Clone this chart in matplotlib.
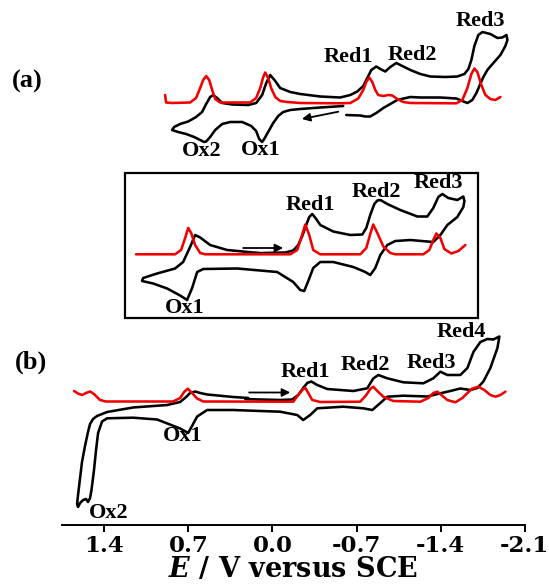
import numpy as np
import matplotlib
matplotlib.use('Agg')
import matplotlib.pyplot as plt
from matplotlib.patches import Rectangle

# potentials in V vs SCE, currents in arbitrary (offset) units

# panel (a) CV, scan starts near -0.6 V towards positive potentials
E_cv_a = [-0.589, -0.398, -0.231, -0.148, -0.089, -0.048, -0.006, 0.036, 0.069, 0.086,
          0.111, 0.136, 0.177, 0.252, 0.352, 0.419, 0.477, 0.519, 0.552, 0.569,
          0.602, 0.652, 0.719, 0.786, 0.836, 0.819, 0.769, 0.702, 0.636, 0.586,
          0.552, 0.519, 0.494, 0.461, 0.419, 0.336, 0.202, 0.136, 0.086, 0.052,
          0.019, -0.023, -0.064, -0.148, -0.231, -0.398, -0.564, -0.648, -0.706, -0.756,
          -0.789, -0.823, -0.864, -0.898, -0.939, -0.981, -1.031, -1.081, -1.148, -1.231,
          -1.314, -1.439, -1.539, -1.598, -1.631, -1.656, -1.681, -1.714, -1.748, -1.814,
          -1.873, -1.914, -1.948, -1.956, -1.939, -1.898, -1.839, -1.789, -1.756, -1.723,
          -1.698, -1.664, -1.623, -1.581, -1.531, -1.398, -1.231, -1.148, -1.039, -0.981,
          -0.923, -0.864, -0.814, -0.773, -0.731, -0.614]
I_cv_a = [419, 417.5, 416, 415, 413, 409, 402, 393, 386, 383,
          386, 394, 399, 403, 403, 401, 395, 388, 383.5, 383,
          385, 388, 391, 393, 395, 398, 401, 403.5, 408, 413,
          421, 428, 430, 427, 422, 420.5, 420, 422, 430, 442,
          450, 444, 437, 433, 431, 428.5, 427.5, 430, 433.5, 439,
          447, 455, 458.5, 456, 453.5, 458, 462, 459, 455, 451,
          448.5, 448, 448.5, 451, 456, 465, 479, 490, 493, 491,
          487, 487.5, 490, 485, 479, 470, 462, 455, 448, 439,
          432, 425, 422, 424, 426.5, 427.5, 427.5, 428, 425, 421,
          417, 412, 408.5, 408.5, 409.5, 410]

# panel (a) DPV
E_dpv_a = [0.894, 0.886, 0.836, 0.686, 0.636, 0.602, 0.577, 0.552, 0.527, 0.502,
           0.477, 0.436, 0.186, 0.136, 0.102, 0.077, 0.061, 0.036, 0.011, -0.023,
           -0.064, -0.123, -0.231, -0.564, -0.648, -0.714, -0.756, -0.781, -0.806, -0.831,
           -0.856, -0.881, -0.923, -0.964, -0.998, -1.039, -1.089, -1.148, -1.531, -1.581,
           -1.623, -1.656, -1.681, -1.706, -1.739, -1.773, -1.814, -1.856, -1.898]
I_dpv_a = [430, 422.5, 422, 422.5, 427, 437, 445, 449, 445, 435,
           426, 422.5, 422.5, 427, 437, 448, 452.5, 447, 437, 428,
           424, 423, 422, 421.7, 422, 426.5, 435, 443, 447.5, 443,
           435, 430, 429, 430, 429.5, 426, 423, 422, 421.7, 425,
           437, 451, 456.5, 453, 440, 430, 426, 425, 428]

# inset CV
E_cv_in = [0.086, -0.106, -0.173, -0.214, -0.248, -0.281, -0.306, -0.331, -0.364, -0.398,
           -0.506, -0.648, -0.748, -0.781, -0.814, -0.848, -0.873, -0.898, -0.956, -1.064,
           -1.206, -1.289, -1.339, -1.381, -1.414, -1.464, -1.539, -1.589, -1.598, -1.589,
           -1.539, -1.456, -1.398, -1.339, -1.289, -1.148, -1.023, -0.956, -0.898, -0.856,
           -0.814, -0.773, -0.673, -0.506, -0.398, -0.339, -0.298, -0.264, -0.231, -0.173,
           -0.039, 0.294, 0.577, 0.627, 0.669, 0.711, 0.769, 0.877, 0.994, 1.086,
           1.077, 0.961, 0.811, 0.744, 0.686, 0.644, 0.602, 0.519, 0.377, 0.161, 0.102]
I_cv_in = [272, 272.5, 274.5, 280, 289, 300, 308, 311, 306, 300,
           293.5, 290, 290.5, 297, 310, 321, 324.5, 325, 321, 315,
           308.5, 308.5, 317, 328, 331, 327, 325, 328.5, 324, 318,
           308, 300, 290, 283, 283.5, 285, 284, 280, 270, 257,
           250, 253, 258, 263, 263, 257, 244, 234, 235, 243,
           253, 256.5, 256, 253, 237, 225, 229.5, 236.5, 241.5, 244,
           247, 251.5, 256.5, 263, 278, 290, 287.5, 280, 275, 272.5, 272]

# inset DPV
E_dpv_in = [1.136, 0.811, 0.761, 0.727, 0.702, 0.677, 0.644, 0.602, 0.561, -0.148,
            -0.206, -0.239, -0.273, -0.306, -0.339, -0.398, -0.731, -0.781, -0.814, -0.839,
            -0.873, -0.923, -0.981, -1.023, -1.256, -1.306, -1.339, -1.364, -1.398, -1.431,
            -1.489, -1.548, -1.606]
I_dpv_in = [270.7, 270.7, 275, 287, 297, 292, 280, 272, 270.7, 270.7,
            275, 287, 300.5, 290, 275, 270.7, 270.7, 277, 291, 300.5,
            292, 278.5, 272, 270.7, 270.7, 275, 285, 291.5, 287, 276,
            271.5, 274, 280]

# panel (b) CV, scan starts near 0.2 V towards negative potentials
E_cv_b = [0.227, 0.102, -0.064, -0.164, -0.214, -0.256, -0.289, -0.323, -0.373, -0.456,
          -0.673, -0.789, -0.839, -0.881, -0.956, -1.089, -1.256, -1.339, -1.398, -1.456,
          -1.564, -1.623, -1.673, -1.731, -1.789, -1.839, -1.889, -1.873, -1.814, -1.756,
          -1.706, -1.648, -1.564, -1.481, -1.398, -1.289, -1.089, -0.956, -0.898, -0.831,
          -0.756, -0.589, -0.373, -0.314, -0.256, -0.206, -0.064, 0.102, 0.327, 0.544,
          0.627, 0.702, 0.769, 0.961, 1.161, 1.377, 1.419, 1.452, 1.469, 1.486,
          1.507, 1.519, 1.536, 1.552, 1.577, 1.602, 1.619, 1.627, 1.619, 1.602,
          1.586, 1.561, 1.536, 1.519, 1.494, 1.461, 1.377, 1.161, 0.877, 0.769,
          0.719, 0.686, 0.644, 0.602, 0.544, 0.327, 0.202]
I_cv_b = [126, 125.5, 125, 125.5, 130, 137, 142, 143.5, 140, 136,
          134, 136.7, 146.5, 150, 146.7, 142.7, 141.7, 146.7, 153.3, 150,
          150, 157, 173, 183, 186, 185.5, 188.5, 177, 157, 143.5,
          137, 135, 136.5, 134, 131.7, 128.5, 129.3, 128.3, 122, 115,
          116.7, 118.3, 116.7, 110, 105, 110, 113.3, 114, 115, 115,
          108.5, 92, 96.5, 105.5, 107.3, 106.7, 103.5, 92, 75, 55,
          35, 27, 23, 26, 25, 22, 18, 21, 30, 47,
          63, 79, 93, 101, 106, 109, 113, 117.5, 120, 123,
          128, 132, 133.5, 132, 130.5, 128, 127]

# panel (b) DPV
E_dpv_b = [1.652, 1.619, 1.586, 1.552, 1.519, 1.486, 1.436, 1.386, 0.827, 0.769,
           0.736, 0.705, 0.669, 0.630, 0.577, -0.173, -0.214, -0.248, -0.273, -0.298,
           -0.331, -0.398, -0.731, -0.781, -0.814, -0.839, -0.873, -0.923, -1.006, -1.231,
           -1.298, -1.339, -1.373, -1.406, -1.456, -1.523, -1.581, -1.623, -1.664, -1.714,
           -1.764, -1.814, -1.856, -1.898, -1.939]
I_dpv_b = [134, 131.5, 130, 132, 133.5, 131, 125, 123.5, 123.5, 127,
           133, 136.3, 132, 126.7, 123.5, 123.3, 130, 135, 137.3, 132,
           125, 123, 123.3, 130, 136, 138.3, 134, 128.3, 124, 123.3,
           127, 132, 133.3, 130, 125, 122.7, 127, 132, 136.5, 138.3,
           135, 130, 128.3, 130, 133.3]

# peak labels: (text, E, I)
labels_a = [('Ox2', 0.586, 374), ('Ox1', 0.102, 375), ('Red1', -0.631, 468),
            ('Red2', -1.164, 470), ('Red3', -1.731, 503.5)]
labels_in = [('Ox1', 0.727, 217), ('Red1', -0.314, 320), ('Red2', -0.864, 333.3),
             ('Red3', -1.377, 341.7)]
labels_b = [('Ox1', 0.744, 89), ('Ox2', 1.361, 12.5), ('Red1', -0.273, 153.3),
            ('Red2', -0.773, 160), ('Red3', -1.323, 162), ('Red4', -1.573, 193.3)]

ticks = [1.4, 0.7, 0.0, -0.7, -1.4, -2.1]
tick_labels = ['1.4', '0.7', '0.0', '-0.7', '-1.4', '-2.1']

plt.rcParams['mathtext.fontset'] = 'dejavuserif'

fig = plt.figure(figsize=(5.49, 5.84), dpi=100)
ax = fig.add_axes([61.7/549, 59/584, 463/549, 525/584])

lw = 1.85
for E, I in [(E_cv_a, I_cv_a), (E_cv_in, I_cv_in), (E_cv_b, I_cv_b)]:
    ax.plot(E, I, color='black', lw=lw, solid_joinstyle='round', solid_capstyle='round', zorder=2)
for E, I in [(E_dpv_a, I_dpv_a), (E_dpv_in, I_dpv_in), (E_dpv_b, I_dpv_b)]:
    ax.plot(E, I, color='#f00000', lw=lw, solid_joinstyle='round', solid_capstyle='round', zorder=3)

# inset frame
ax.add_patch(Rectangle((-1.712, 207.5), 1.227 + 1.712, 351.7 - 207.5,
                       fill=False, lw=1.6, ec='black', clip_on=False))

# scan direction arrows
arr = dict(arrowstyle='-|>', color='black', lw=1.3, mutation_scale=12, shrinkA=0, shrinkB=0)
ax.annotate('', xy=(-0.245, 406), xytext=(-0.548, 413.3), arrowprops=arr)
ax.annotate('', xy=(-0.089, 277), xytext=(0.244, 277), arrowprops=arr)
ax.annotate('', xy=(-0.148, 132.5), xytext=(0.194, 132.5), arrowprops=arr)

lab_font = dict(family='Liberation Serif', weight='bold', size=16,
                ha='center', va='center')
for txt, E, I in labels_a + labels_in + labels_b:
    ax.text(E, I, txt, **lab_font)
ax.text(2.044, 444, '(a)', family='Liberation Serif', weight='bold', size=19,
        ha='center', va='center')
ax.text(2.011, 163, '(b)', family='Liberation Serif', weight='bold', size=19,
        ha='center', va='center')

ax.set_xlim(1.755, -2.1)
ax.set_ylim(0, 525)
for s in ['top', 'left', 'right']:
    ax.spines[s].set_visible(False)
ax.spines['bottom'].set_linewidth(1.4)
ax.set_yticks([])
ax.set_xticks(ticks)
ax.set_xticklabels(tick_labels, family='DejaVu Serif', weight='bold', size=16.5)
ax.tick_params(axis='x', direction='out', length=5, width=1.4, pad=2.5)

# axis title placed by hand so it sits at the very bottom like the original
fig.text(293/549, 1/584, r'$\mathbfit{E}$ / V versus SCE', family='DejaVu Serif',
         weight='bold', size=19.5, ha='center', va='bottom')

fig.savefig('out.png', dpi=100)
